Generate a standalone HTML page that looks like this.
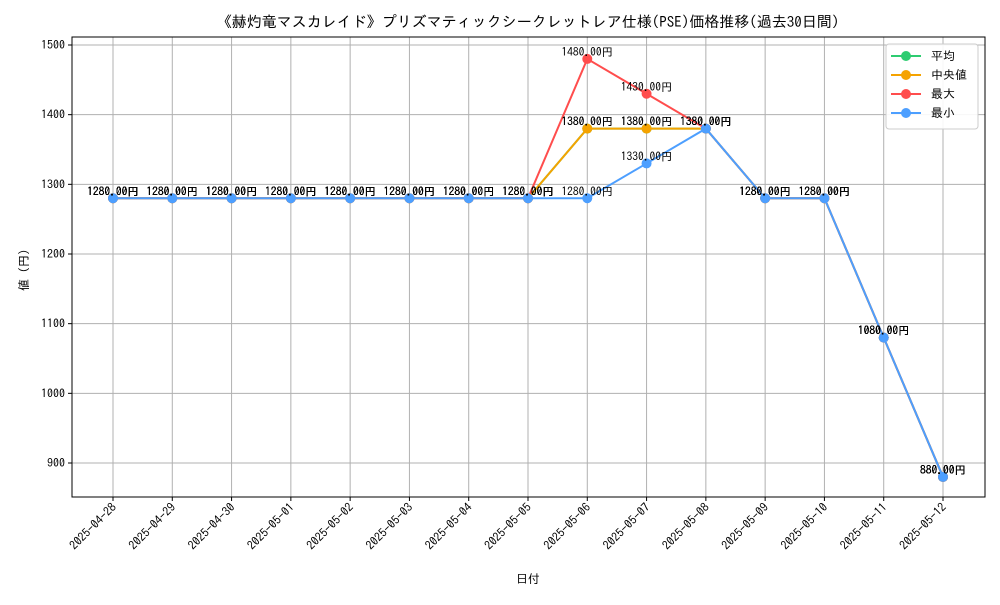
<!DOCTYPE html>
<html><head><meta charset="utf-8"><style>
body{margin:0;background:#fff}
svg{font-family:"IPAGothic","Liberation Sans","Noto Sans CJK JP",sans-serif}
</style></head><body>
<svg id="c" width="1000" height="600" viewBox="0 0 1000 600" xmlns="http://www.w3.org/2000/svg">
<rect width="1000" height="600" fill="#fff"/>
<text x="528" y="27" font-size="15" text-anchor="middle">《赫灼竜マスカレイド》プリズマティックシークレットレア仕様(PSE)価格推移(過去30日間)</text>
<g id="grid"></g><g id="axes"></g><g id="series"></g><g id="labels"></g>
<rect x="72" y="37" width="913" height="460" fill="none" stroke="#000" stroke-width="1"/>
<text x="528" y="583" font-size="12" text-anchor="middle">日付</text>
<text x="28" y="270" font-size="12" text-anchor="middle" transform="rotate(-90 28 270)">値 (円)</text>
<g id="legend">
<rect x="886" y="44" width="92" height="85" rx="3" fill="#fff" stroke="#ccc" fill-opacity="0.9"/>
</g>
</svg>
<script>
const categories=["2025-04-28","2025-04-29","2025-04-30","2025-05-01","2025-05-02","2025-05-03","2025-05-04","2025-05-05","2025-05-06","2025-05-07","2025-05-08","2025-05-09","2025-05-10","2025-05-11","2025-05-12"];
const meanVals=[1280,1280,1280,1280,1280,1280,1280,1280,1380,1380,1380,1280,1280,1080,880];
const medianVals=[1280,1280,1280,1280,1280,1280,1280,1280,1380,1380,1380,1280,1280,1080,880];
const maxVals=[1280,1280,1280,1280,1280,1280,1280,1280,1480,1430,1380,1280,1280,1080,880];
const minVals=[1280,1280,1280,1280,1280,1280,1280,1280,1280,1330,1380,1280,1280,1080,880];
const yTicks=[900,1000,1100,1200,1300,1400,1500];
const seriesNames=["平均","中央値","最大","最小"];
const NS="http://www.w3.org/2000/svg";
const X=i=>113+i*(943-113)/14;
const Y=v=>463-(v-900)*(463-45)/600;
function mk(tag,attrs,parent){const e=document.createElementNS(NS,tag);for(const k in attrs)e.setAttribute(k,attrs[k]);parent.appendChild(e);return e;}
const grid=document.getElementById('grid'),axes=document.getElementById('axes');
categories.forEach((c,i)=>{
 const l=mk('line',{x1:X(i),x2:X(i),y1:37,y2:497,stroke:'#b0b0b0','stroke-width':1},grid);
 
 
 mk('line',{x1:X(i),x2:X(i),y1:497,y2:501,stroke:'#000'},axes);
 const t=mk('text',{x:X(i)+4,y:508,'font-size':12,'text-anchor':'end',transform:`rotate(-45 ${X(i)+4} 508)`},axes);
 t.textContent=c;
 
 
});
yTicks.forEach(v=>{
 const l=mk('line',{x1:72,x2:985,y1:Y(v),y2:Y(v),stroke:'#b0b0b0','stroke-width':1},grid);
 
 
 mk('line',{x1:68,x2:72,y1:Y(v),y2:Y(v),stroke:'#000'},axes);
 const t=mk('text',{x:65,y:Y(v)+4,'font-size':12,'text-anchor':'end'},axes);
 t.textContent=v;
 
 
});
const sData=[meanVals,medianVals,maxVals,minVals];
const colors=["#2ecc71","#f5a300","#ff4d4d","#4d9fff"];
const sg=document.getElementById('series'),lg=document.getElementById('labels'),leg=document.getElementById('legend');
sData.forEach((vals,s)=>{
 const p=mk('polyline',{points:vals.map((v,i)=>X(i)+','+Y(v)).join(' '),fill:'none',stroke:colors[s],'stroke-width':2},sg);
 
 
 vals.forEach((v,i)=>{
  const c=mk('circle',{cx:X(i),cy:Y(v),r:5,fill:colors[s]},sg);
  
  
  const t=mk('text',{x:X(i),y:Y(v)-3,'font-size':11.5,'text-anchor':'middle',fill:'#000'},lg);
  t.textContent=v.toFixed(2)+'円';
  
  
 });
 const ly=56+s*19;
 mk('line',{x1:891,x2:921,y1:ly,y2:ly,stroke:colors[s],'stroke-width':2},leg);
 mk('circle',{cx:906,cy:ly,r:5,fill:colors[s]},leg);
 const t=mk('text',{x:931,y:ly+4,'font-size':12},leg);
 t.textContent=(s==1?' ':'')+seriesNames[s];
 
 
});
</script>
</body></html>
